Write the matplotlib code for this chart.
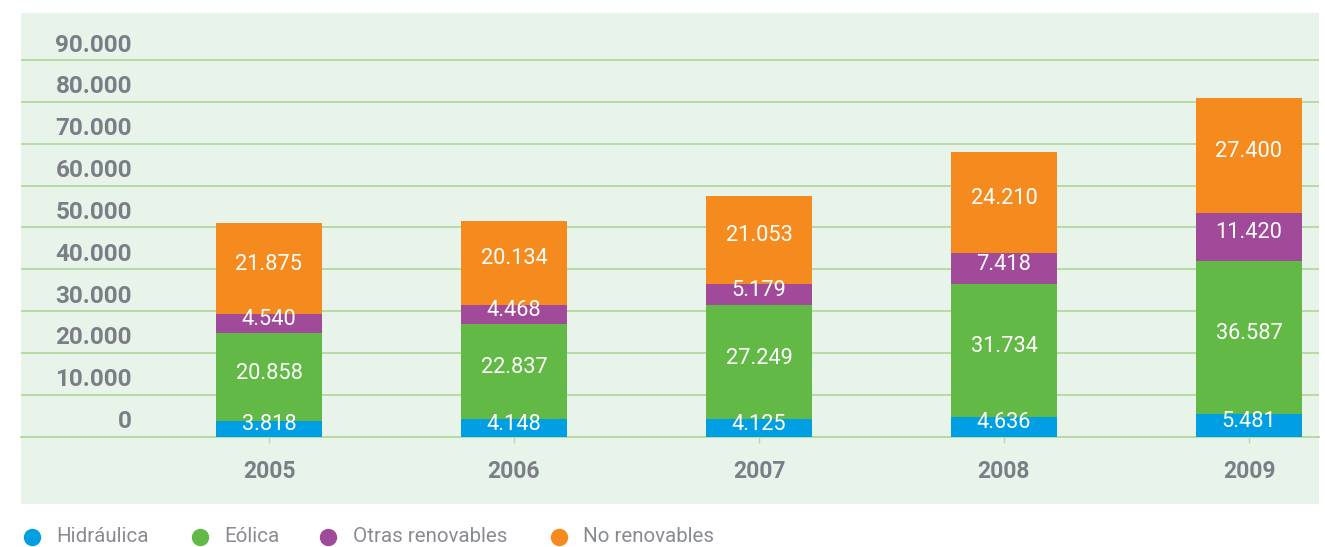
import matplotlib
matplotlib.use("Agg")
import matplotlib.pyplot as plt
import matplotlib.transforms as mtransforms
from matplotlib.lines import Line2D
from matplotlib.patches import Rectangle
import numpy as np

# ---- data ----
years = ["2005", "2006", "2007", "2008", "2009"]
hidraulica = [3818, 4148, 4125, 4636, 5481]
eolica = [20858, 22837, 27249, 31734, 36587]
otras = [4540, 4468, 5179, 7418, 11420]
no_renov = [21875, 20134, 21053, 24210, 27400]
series_names = ["Hidráulica", "Eólica", "Otras renovables", "No renovables"]
y_ticks = [0, 10000, 20000, 30000, 40000, 50000, 60000, 70000, 80000, 90000]
y_tick_labels = ["0", "10.000", "20.000", "30.000", "40.000", "50.000",
                 "60.000", "70.000", "80.000", "90.000"]

colors = ["#009fe3", "#62b946", "#a24a9a", "#f58b1f"]
panel_bg = "#e8f3ea"
grid_c = "#b5dca5"
gray = "#7b7e86"

W, H = 1325, 547
fig = plt.figure(figsize=(W / 100, H / 100), dpi=100)
fig.patch.set_facecolor("white")

# panel background
px0, px1, py0, py1 = 21, 1319, 13, 504
fig.add_artist(Rectangle((px0 / W, 1 - py1 / H), (px1 - px0) / W, (py1 - py0) / H,
                         transform=fig.transFigure, facecolor=panel_bg,
                         edgecolor="none", zorder=0))

zero_y = 436.7
ax = fig.add_axes([px0 / W, 1 - zero_y / H, (px1 - px0) / W, (zero_y - py0) / H])
ax.set_facecolor("none")
ax.patch.set_alpha(0)

x = np.arange(len(years))
px_per_unit = 245.0
ax.set_xlim((px0 - 269) / px_per_unit, (px1 - 269) / px_per_unit)
px_per_val = 41.85 / 10000
ax.set_ylim(0, (zero_y - py0) / px_per_val)

for s in ax.spines.values():
    s.set_visible(False)
ax.spines["bottom"].set_visible(True)
ax.spines["bottom"].set_color(grid_c)
ax.spines["bottom"].set_linewidth(1.4)

ax.set_yticks(y_ticks)
ax.set_yticklabels(y_tick_labels)
ax.yaxis.grid(True, color=grid_c, linewidth=1.4)
ax.set_axisbelow(True)
ax.tick_params(axis="y", length=0, pad=-(132 - px0) * 0.72, labelsize=17.5,
               labelcolor=gray)
off = mtransforms.ScaledTranslation(0, 17.5 / 100, fig.dpi_scale_trans)
for lab in ax.get_yticklabels():
    lab.set_horizontalalignment("right")
    lab.set_fontweight("bold")
    lab.set_fontfamily("Roboto")
    lab.set_transform(lab.get_transform() + off)

ax.set_xticks(x)
ax.set_xticklabels(years)
ax.tick_params(axis="x", length=4, width=1, color=grid_c, direction="out",
               pad=13, labelsize=16.5, labelcolor=gray)
for lab in ax.get_xticklabels():
    lab.set_fontweight("bold")
    lab.set_fontfamily("Roboto")

bar_w = 106 / px_per_unit
bottom = np.zeros(len(years))
lab_off = mtransforms.ScaledTranslation(0, 4 / 100, fig.dpi_scale_trans)
for vals, c in zip([hidraulica, eolica, otras, no_renov], colors):
    vals = np.array(vals)
    ax.bar(x, vals, width=bar_w, bottom=bottom, color=c, edgecolor="none", zorder=3)
    for xi, b, v in zip(x, bottom, vals):
        ax.text(xi, b + v / 2, f"{v:,}".replace(",", "."), ha="center", va="center",
                color="white", fontsize=15.7, fontfamily="Roboto", zorder=4,
                transform=ax.transData + lab_off)
    bottom = bottom + vals

# legend
leg_y = 1 - 536.5 / H
circle_x = [31.7, 200, 328, 559]
text_x = [56.5, 224, 353, 583]
for cx, tx, c, name in zip(circle_x, text_x, colors, series_names):
    fig.add_artist(Line2D([cx / W], [leg_y], marker="o", markersize=11.5,
                          color=c, markeredgecolor=c, linestyle="none",
                          transform=fig.transFigure))
    fig.text(tx / W, leg_y, name, ha="left", va="center", fontsize=14.8,
             color="#888b92", fontfamily="Roboto")

fig.savefig("out.png", dpi=100, facecolor="white")
